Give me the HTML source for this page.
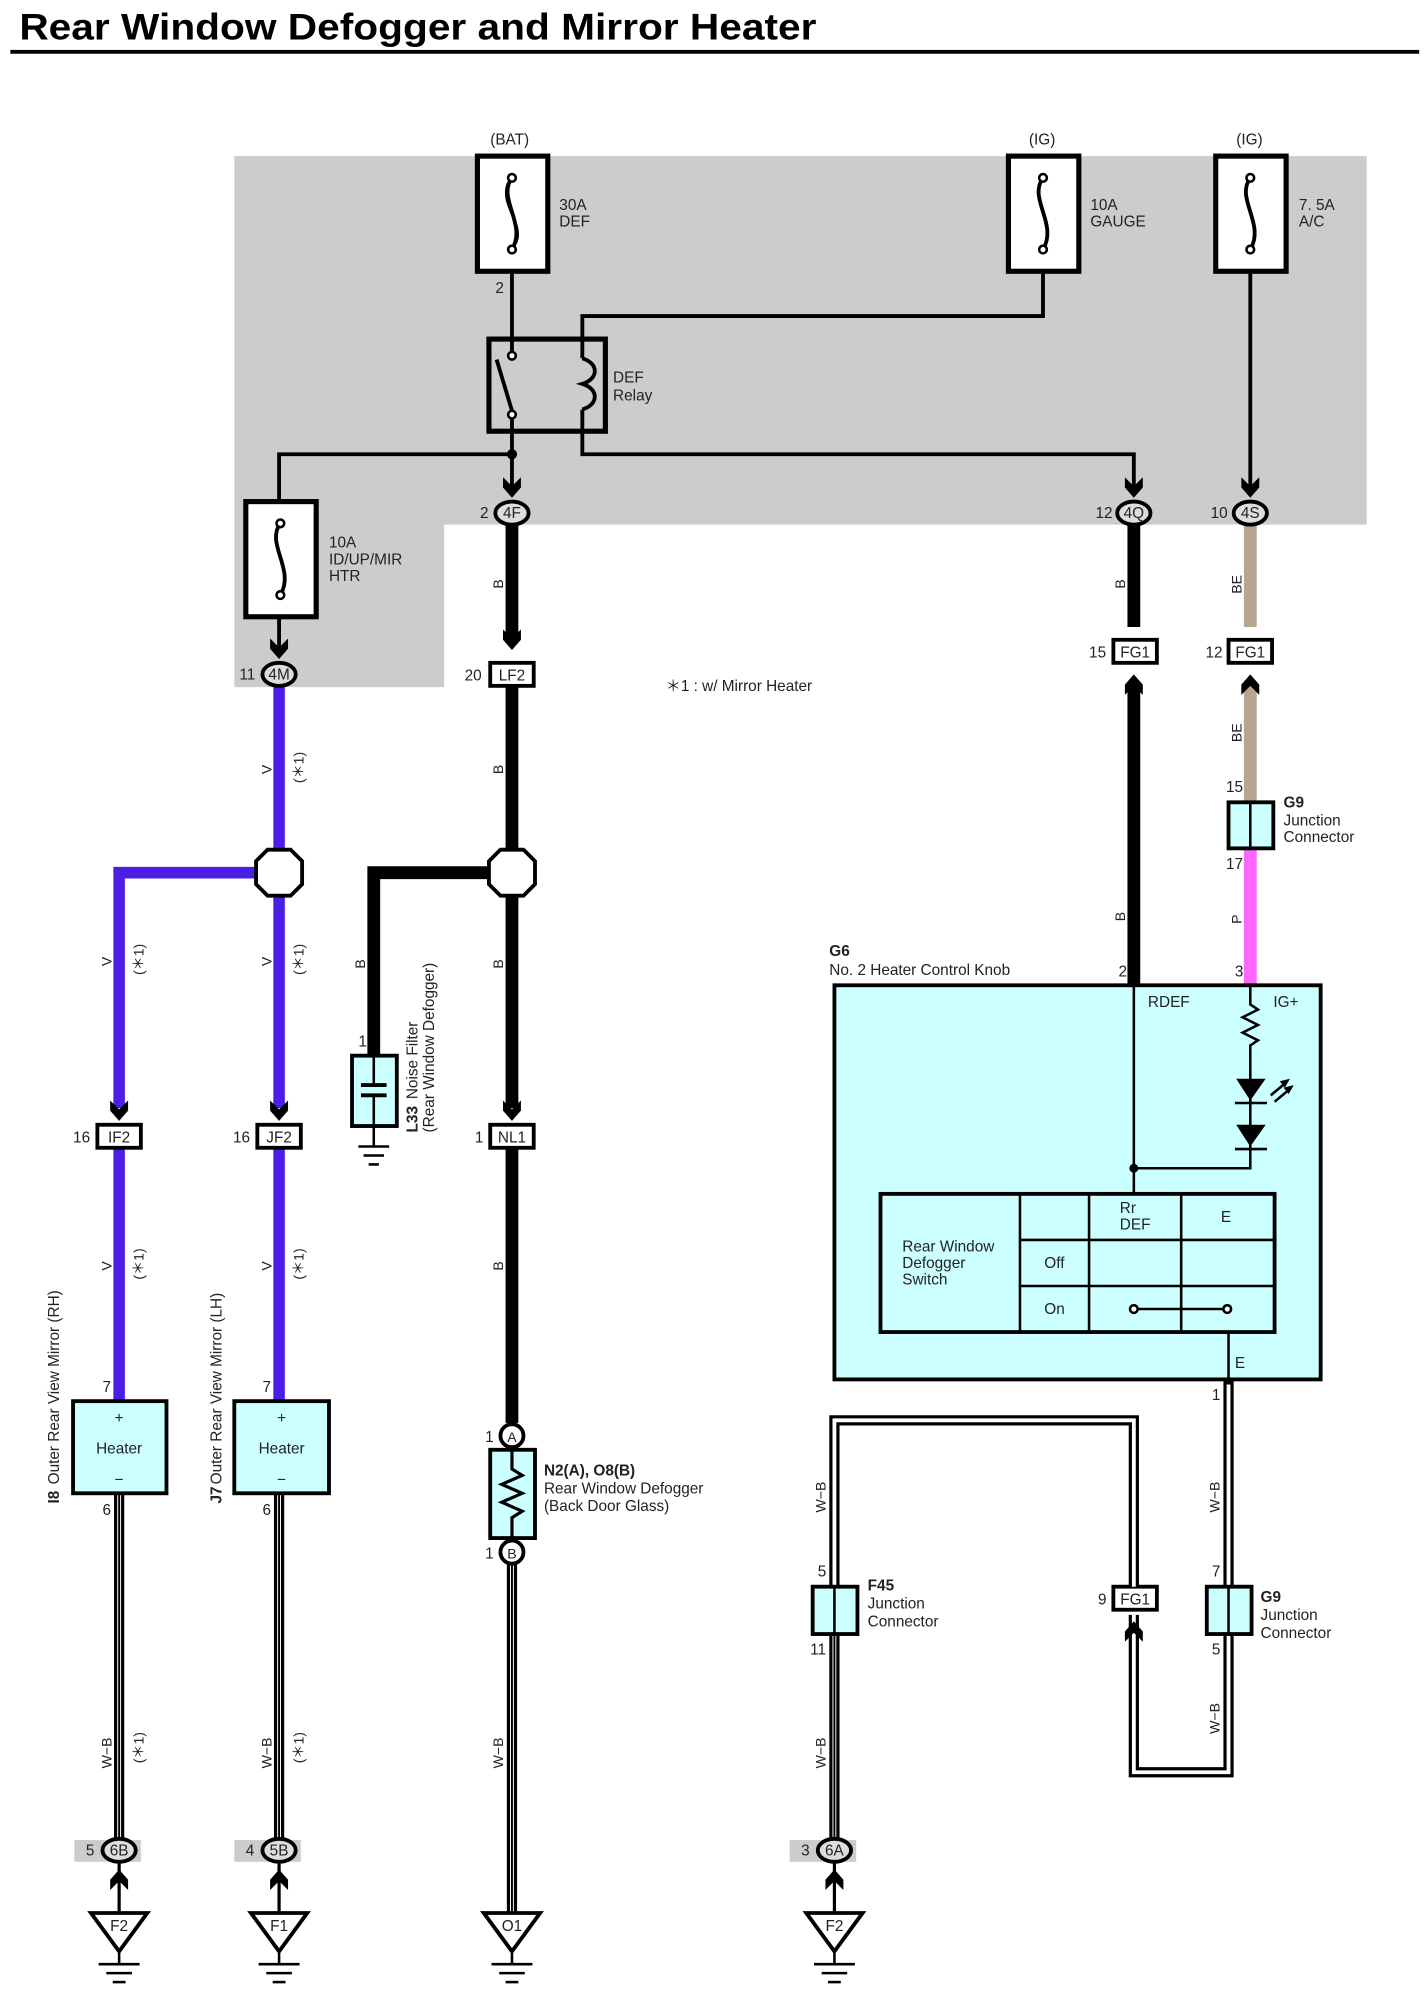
<!DOCTYPE html>
<html><head><meta charset="utf-8">
<style>
html,body{margin:0;padding:0;background:#fff;}
svg{display:block;}
text{font-family:"Liberation Sans",Arial,sans-serif;fill:#222;}
</style></head>
<body>
<svg width="1427" height="2000" viewBox="0 0 1115 1563" xmlns="http://www.w3.org/2000/svg">
<defs>
<g id="chev"><polygon points="-7,-13 0,-6 7,-13 7,-5 0,3 -7,-5" fill="#000"/></g>
<g id="chevup"><polygon points="-7,13 0,6 7,13 7,5 0,-3 -7,5" fill="#000"/></g>
<g id="fuse"><path d="M0,-28 C-12,-12 12,8 0,28" fill="none" stroke="#000" stroke-width="3"/><circle cx="0" cy="-28" r="3" fill="#fff" stroke="#000" stroke-width="2"/><circle cx="0" cy="28" r="3" fill="#fff" stroke="#000" stroke-width="2"/></g>
<g id="gnd"><polygon points="-22,0 22,0 0,30" fill="#fff" stroke="#000" stroke-width="3"/><line x1="0" y1="30" x2="0" y2="40" stroke="#000" stroke-width="2"/><line x1="-16" y1="40" x2="16" y2="40" stroke="#000" stroke-width="2"/><line x1="-10" y1="47" x2="10" y2="47" stroke="#000" stroke-width="2"/><line x1="-5" y1="54" x2="5" y2="54" stroke="#000" stroke-width="2"/></g>
<g id="octa"><polygon points="-9,-18 9,-18 18,-9 18,9 9,18 -9,18 -18,9 -18,-9" fill="#fff" stroke="#000" stroke-width="3"/></g>
</defs>

<!-- title -->
<text x="15" y="31" font-size="29" font-weight="bold" textLength="623" lengthAdjust="spacingAndGlyphs" style="fill:#000">Rear Window Defogger and Mirror Heater</text>
<rect x="8" y="39" width="1101" height="3" fill="#000"/>

<!-- gray area -->
<polygon points="183,122 1068,122 1068,410 347,410 347,537 183,537" fill="#cccccc"/>

<!-- thin wires in gray area -->
<g stroke="#000" stroke-width="3" fill="none">
<line x1="400" y1="212" x2="400" y2="278"/>
<polyline points="815,212 815,247 455,247 455,280"/>
<polyline points="455,320 455,355 886,355 886,386"/>
<line x1="400" y1="324" x2="400" y2="386"/>
<polyline points="400,355 218,355 218,392"/>
<line x1="218" y1="482" x2="218" y2="512"/>
<line x1="977" y1="212" x2="977" y2="386"/>
</g>
<circle cx="400" cy="355" r="4" fill="#000"/>

<!-- fuses -->
<rect x="373" y="122" width="55" height="90" fill="#fff" stroke="#000" stroke-width="4"/>
<use href="#fuse" x="400" y="167"/>
<path d="M397,143 C390,160 410,175 403,190" stroke="#000" stroke-width="2" fill="none"/>
<rect x="788" y="122" width="55" height="90" fill="#fff" stroke="#000" stroke-width="4"/>
<use href="#fuse" x="815" y="167"/>
<rect x="950" y="122" width="55" height="90" fill="#fff" stroke="#000" stroke-width="4"/>
<use href="#fuse" x="977" y="167"/>
<rect x="192" y="392" width="55" height="90" fill="#fff" stroke="#000" stroke-width="4"/>
<use href="#fuse" x="219" y="437"/>

<text x="383" y="113" font-size="12">(BAT)</text>
<text x="804" y="113" font-size="12">(IG)</text>
<text x="966" y="113" font-size="12">(IG)</text>
<text x="437" y="164" font-size="12">30A</text><text x="437" y="177" font-size="12">DEF</text>
<text x="852" y="164" font-size="12">10A</text><text x="852" y="177" font-size="12">GAUGE</text>
<text x="1015" y="164" font-size="12">7. 5A</text><text x="1015" y="177" font-size="12">A/C</text>
<text x="387" y="229" font-size="12">2</text>
<text x="257" y="428" font-size="12">10A</text><text x="257" y="441" font-size="12">ID/UP/MIR</text><text x="257" y="454" font-size="12">HTR</text>

<!-- relay -->
<rect x="382" y="265" width="91" height="72" fill="none" stroke="#000" stroke-width="4"/>
<circle cx="400" cy="278" r="3" fill="#fff" stroke="#000" stroke-width="2"/>
<circle cx="400" cy="324" r="3" fill="#fff" stroke="#000" stroke-width="2"/>
<line x1="388" y1="281" x2="400" y2="321" stroke="#000" stroke-width="3"/>
<path d="M455,280 C468,284 468,296 455,300 C468,304 468,316 455,320" fill="none" stroke="#000" stroke-width="3"/>
<text x="479" y="299" font-size="12">DEF</text><text x="479" y="313" font-size="12">Relay</text>

<!-- thick black wires -->
<g stroke="#000" stroke-width="10" fill="none">
<line x1="400" y1="408" x2="400" y2="500"/>
<line x1="400" y1="537" x2="400" y2="866"/>
<line x1="400" y1="897" x2="400" y2="1112"/>
<polyline points="382,682 292,682 292,825"/>
<line x1="886" y1="408" x2="886" y2="490"/>
<line x1="886" y1="533" x2="886" y2="772"/>
</g>
<!-- BE wire -->
<line x1="977" y1="408" x2="977" y2="490" stroke="#b8a590" stroke-width="10"/>
<line x1="977" y1="533" x2="977" y2="627" stroke="#b8a590" stroke-width="10"/>
<line x1="977" y1="663" x2="977" y2="772" stroke="#ff66ff" stroke-width="10"/>
<!-- purple -->
<g stroke="#4b1ee6" stroke-width="9" fill="none">
<line x1="218" y1="537" x2="218" y2="866"/>
<polyline points="200,682 93,682 93,866"/>
<line x1="93" y1="897" x2="93" y2="1095"/>
<line x1="218" y1="897" x2="218" y2="1095"/>
</g>
<use href="#octa" x="218" y="682"/>
<use href="#octa" x="400" y="682"/>

<!-- arrows -->
<use href="#chev" x="400" y="386"/><use href="#chev" x="886" y="386"/><use href="#chev" x="977" y="386"/>
<use href="#chev" x="218" y="512"/><use href="#chev" x="400" y="505"/>
<use href="#chev" x="93" y="873"/><use href="#chev" x="218" y="873"/><use href="#chev" x="400" y="873"/>
<use href="#chevup" x="886" y="530"/><use href="#chevup" x="977" y="530"/>

<!-- ovals -->
<g font-size="12" text-anchor="middle">
<ellipse cx="400" cy="401" rx="13" ry="9" fill="#ddd" stroke="#000" stroke-width="3"/><text x="400" y="405">4F</text>
<ellipse cx="886" cy="401" rx="13" ry="9" fill="#ddd" stroke="#000" stroke-width="3"/><text x="886" y="405">4Q</text>
<ellipse cx="977" cy="401" rx="13" ry="9" fill="#ddd" stroke="#000" stroke-width="3"/><text x="977" y="405">4S</text>
<ellipse cx="218" cy="527" rx="13" ry="9" fill="#ddd" stroke="#000" stroke-width="3"/><text x="218" y="531">4M</text>
</g>
<g font-size="12">
<text x="375" y="405">2</text><text x="856" y="405">12</text><text x="946" y="405">10</text><text x="187" y="531">11</text>
</g>

<!-- rectangular connectors -->
<g fill="#fff" stroke="#000" stroke-width="3">
<rect x="383" y="518" width="34" height="18"/>
<rect x="870" y="500" width="34" height="18"/>
<rect x="960" y="500" width="34" height="18"/>
<rect x="76" y="879" width="34" height="18"/>
<rect x="201" y="879" width="34" height="18"/>
<rect x="383" y="879" width="34" height="18"/>
<rect x="870" y="1240" width="34" height="18"/>
</g>
<g font-size="12" text-anchor="middle">
<text x="400" y="532">LF2</text><text x="887" y="514">FG1</text><text x="977" y="514">FG1</text>
<text x="93" y="893">IF2</text><text x="218" y="893">JF2</text><text x="400" y="893">NL1</text><text x="887" y="1254">FG1</text>
</g>
<g font-size="12">
<text x="363" y="532">20</text><text x="851" y="514">15</text><text x="942" y="514">12</text>
<text x="57" y="893">16</text><text x="182" y="893">16</text><text x="371" y="893">1</text><text x="858" y="1254">9</text>
</g>
<text x="520" y="540" font-size="12">＊1 : w/ Mirror Heater</text>

<!-- G9 upper -->
<rect x="960" y="627" width="35" height="36" fill="#ccffff" stroke="#000" stroke-width="3"/>
<line x1="977" y1="627" x2="977" y2="663" stroke="#000" stroke-width="2"/>
<text x="958" y="619" font-size="12">15</text><text x="958" y="679" font-size="12">17</text>
<text x="1003" y="631" font-size="12" font-weight="bold">G9</text>
<text x="1003" y="645" font-size="12">Junction</text><text x="1003" y="658" font-size="12">Connector</text>

<!-- capacitor L33 -->
<rect x="275" y="825" width="35" height="55" fill="#ccffff" stroke="#000" stroke-width="3"/>
<line x1="292" y1="825" x2="292" y2="848" stroke="#000" stroke-width="2"/>
<line x1="282" y1="848" x2="302" y2="848" stroke="#000" stroke-width="3"/>
<line x1="282" y1="856" x2="302" y2="856" stroke="#000" stroke-width="3"/>
<line x1="292" y1="856" x2="292" y2="896" stroke="#000" stroke-width="2"/>
<line x1="280" y1="896" x2="304" y2="896" stroke="#000" stroke-width="2"/>
<line x1="284" y1="903" x2="300" y2="903" stroke="#000" stroke-width="2"/>
<line x1="288" y1="910" x2="296" y2="910" stroke="#000" stroke-width="2"/>
<text x="280" y="818" font-size="12">1</text>
<g transform="translate(326,885) rotate(-90)" font-size="12">
<text x="0" y="0" font-weight="bold">L33</text>
<text x="26" y="0">Noise Filter</text>
<text x="0" y="13">(Rear Window Defogger)</text>
</g>

<!-- wire labels rotated -->
<g font-size="11">
<text transform="translate(212,605) rotate(-90)">V</text><text transform="translate(237,612) rotate(-90)">(＊1)</text>
<text transform="translate(87,755) rotate(-90)">V</text><text transform="translate(112,762) rotate(-90)">(＊1)</text>
<text transform="translate(212,755) rotate(-90)">V</text><text transform="translate(237,762) rotate(-90)">(＊1)</text>
<text transform="translate(87,993) rotate(-90)">V</text><text transform="translate(112,1000) rotate(-90)">(＊1)</text>
<text transform="translate(212,993) rotate(-90)">V</text><text transform="translate(237,1000) rotate(-90)">(＊1)</text>
<text transform="translate(393,460) rotate(-90)">B</text>
<text transform="translate(393,605) rotate(-90)">B</text>
<text transform="translate(393,757) rotate(-90)">B</text>
<text transform="translate(393,993) rotate(-90)">B</text>
<text transform="translate(285,757) rotate(-90)">B</text>
<text transform="translate(879,460) rotate(-90)">B</text>
<text transform="translate(879,720) rotate(-90)">B</text>
<text transform="translate(970,464) rotate(-90)">BE</text>
<text transform="translate(970,580) rotate(-90)">BE</text>
<text transform="translate(970,722) rotate(-90)">P</text>
<text transform="translate(87,1382) rotate(-90)">W−B</text><text transform="translate(112,1378) rotate(-90)">(＊1)</text>
<text transform="translate(212,1382) rotate(-90)">W−B</text><text transform="translate(237,1378) rotate(-90)">(＊1)</text>
<text transform="translate(393,1382) rotate(-90)">W−B</text>
<text transform="translate(645,1182) rotate(-90)">W−B</text>
<text transform="translate(645,1382) rotate(-90)">W−B</text>
<text transform="translate(953,1182) rotate(-90)">W−B</text>
<text transform="translate(953,1355) rotate(-90)">W−B</text>
</g>

<!-- double wires W-B -->
<g fill="none">
<g stroke="#000" stroke-width="8">
<line x1="93" y1="1167" x2="93" y2="1440"/>
<line x1="218" y1="1167" x2="218" y2="1440"/>
<line x1="400" y1="1222" x2="400" y2="1495"/>
<polyline points="652,1240 652,1110 886,1110 886,1240"/>
<line x1="652" y1="1277" x2="652" y2="1440"/>
<line x1="960" y1="1078" x2="960" y2="1240"/>
<polyline points="960,1277 960,1385 886,1385 886,1262"/>
</g>
<g stroke="#fff" stroke-width="3">
<line x1="93" y1="1167" x2="93" y2="1440"/>
<line x1="218" y1="1167" x2="218" y2="1440"/>
<line x1="400" y1="1222" x2="400" y2="1495"/>
<polyline points="652,1240 652,1110 886,1110 886,1240"/>
<line x1="652" y1="1277" x2="652" y2="1440"/>
<line x1="960" y1="1082" x2="960" y2="1240"/>
<polyline points="960,1277 960,1385 886,1385 886,1262"/>
</g>
<g stroke="#000" stroke-width="1.5">
<line x1="93" y1="1167" x2="93" y2="1440"/>
<line x1="218" y1="1167" x2="218" y2="1440"/>
<line x1="400" y1="1222" x2="400" y2="1495"/>
<line x1="652" y1="1277" x2="652" y2="1440"/>
</g>
</g>
<use href="#chevup" x="886" y="1270"/>

<!-- heaters -->
<rect x="57" y="1095" width="73" height="72" fill="#ccffff" stroke="#000" stroke-width="3"/>
<rect x="183" y="1095" width="74" height="72" fill="#ccffff" stroke="#000" stroke-width="3"/>
<g font-size="12" text-anchor="middle">
<text x="93" y="1112">+</text><text x="93" y="1136">Heater</text><text x="93" y="1160">−</text>
<text x="220" y="1112">+</text><text x="220" y="1136">Heater</text><text x="220" y="1160">−</text>
</g>
<g font-size="12"><text x="80" y="1088">7</text><text x="205" y="1088">7</text><text x="80" y="1184">6</text><text x="205" y="1184">6</text></g>
<g transform="translate(46,1175) rotate(-90)" font-size="12"><text x="0" y="0" font-weight="bold">I8</text><text x="0" y="0" dx="15">Outer Rear View Mirror (RH)</text></g>
<g transform="translate(173,1175) rotate(-90)" font-size="12"><text x="0" y="0" font-weight="bold">J7</text><text x="0" y="0" dx="15">Outer Rear View Mirror (LH)</text></g>

<!-- defogger -->
<circle cx="400" cy="1122" r="9" fill="#fff" stroke="#000" stroke-width="3"/>
<text x="400" y="1127" font-size="11" text-anchor="middle">A</text>
<rect x="383" y="1133" width="35" height="69" fill="#ccffff" stroke="#000" stroke-width="3"/>
<polyline points="400,1133 400,1148 408,1153 392,1160 408,1167 392,1174 408,1181 400,1186 400,1202" fill="none" stroke="#000" stroke-width="2.5"/>
<circle cx="400" cy="1213" r="9" fill="#fff" stroke="#000" stroke-width="3"/>
<text x="400" y="1218" font-size="11" text-anchor="middle">B</text>
<text x="379" y="1127" font-size="12">1</text><text x="379" y="1218" font-size="12">1</text>
<text x="425" y="1153" font-size="12" font-weight="bold">N2(A), O8(B)</text>
<text x="425" y="1167" font-size="12">Rear Window Defogger</text>
<text x="425" y="1181" font-size="12">(Back Door Glass)</text>

<!-- G6 -->
<text x="648" y="747" font-size="12" font-weight="bold">G6</text>
<text x="648" y="762" font-size="12">No. 2 Heater Control Knob</text>
<rect x="652" y="770" width="380" height="308" fill="#ccffff" stroke="#000" stroke-width="3"/>
<text x="874" y="763" font-size="12">2</text><text x="965" y="763" font-size="12">3</text>
<text x="897" y="787" font-size="12">RDEF</text><text x="995" y="787" font-size="12">IG+</text>
<g stroke="#000" stroke-width="2" fill="none">
<line x1="886" y1="770" x2="886" y2="933"/>
<polyline points="977,770 977,785 983,789 971,795 983,801 971,807 983,813 977,817 977,913 886,913"/>
</g>
<polygon points="966,843 989,843 977,860" fill="#000"/><line x1="965" y1="862" x2="990" y2="862" stroke="#000" stroke-width="2"/>
<polygon points="966,879 989,879 977,896" fill="#000"/><line x1="965" y1="898" x2="990" y2="898" stroke="#000" stroke-width="2"/>
<line x1="993" y1="856" x2="1005" y2="846" stroke="#000" stroke-width="2"/><polygon points="1008,843 1000,845 1004,850" fill="#000"/>
<line x1="996" y1="861" x2="1008" y2="851" stroke="#000" stroke-width="2"/><polygon points="1011,848 1003,850 1007,855" fill="#000"/>
<circle cx="886" cy="913" r="3.5" fill="#000"/>
<rect x="688" y="933" width="308" height="108" fill="#ccffff" stroke="#000" stroke-width="3"/>
<g stroke="#000" stroke-width="2">
<line x1="797" y1="933" x2="797" y2="1041"/><line x1="851" y1="933" x2="851" y2="1041"/><line x1="923" y1="933" x2="923" y2="1041"/>
<line x1="797" y1="969" x2="996" y2="969"/><line x1="797" y1="1005" x2="996" y2="1005"/>
<line x1="886" y1="1023" x2="959" y2="1023"/>
</g>
<circle cx="886" cy="1023" r="3" fill="#fff" stroke="#000" stroke-width="2"/>
<circle cx="959" cy="1023" r="3" fill="#fff" stroke="#000" stroke-width="2"/>
<g font-size="12">
<text x="875" y="948">Rr</text><text x="875" y="961">DEF</text><text x="954" y="955">E</text>
<text x="705" y="978">Rear Window</text><text x="705" y="991">Defogger</text><text x="705" y="1004">Switch</text>
<text x="816" y="991">Off</text><text x="816" y="1027">On</text>
<text x="965" y="1069">E</text><text x="947" y="1094">1</text>
</g>
<line x1="960" y1="1041" x2="960" y2="1078" stroke="#000" stroke-width="2"/>

<!-- F45 & G9 lower -->
<rect x="635" y="1240" width="35" height="37" fill="#ccffff" stroke="#000" stroke-width="3"/>
<line x1="652" y1="1240" x2="652" y2="1277" stroke="#000" stroke-width="2"/>
<text x="639" y="1232" font-size="12">5</text><text x="633" y="1293" font-size="12">11</text>
<text x="678" y="1243" font-size="12" font-weight="bold">F45</text>
<text x="678" y="1257" font-size="12">Junction</text><text x="678" y="1271" font-size="12">Connector</text>
<rect x="943" y="1240" width="35" height="37" fill="#ccffff" stroke="#000" stroke-width="3"/>
<line x1="960" y1="1240" x2="960" y2="1277" stroke="#000" stroke-width="2"/>
<text x="947" y="1232" font-size="12">7</text><text x="947" y="1293" font-size="12">5</text>
<text x="985" y="1252" font-size="12" font-weight="bold">G9</text>
<text x="985" y="1266" font-size="12">Junction</text><text x="985" y="1280" font-size="12">Connector</text>

<!-- bottom ground connectors -->
<g>
<rect x="58" y="1438" width="52" height="17" fill="#cccccc"/>
<rect x="183" y="1438" width="52" height="17" fill="#cccccc"/>
<rect x="617" y="1438" width="52" height="17" fill="#cccccc"/>
<g stroke="#000" stroke-width="2.5">
<line x1="93" y1="1455" x2="93" y2="1495"/><line x1="218" y1="1455" x2="218" y2="1495"/><line x1="652" y1="1455" x2="652" y2="1495"/>
</g>
<g font-size="12" text-anchor="middle">
<ellipse cx="93" cy="1446" rx="13" ry="9" fill="#ddd" stroke="#000" stroke-width="3"/><text x="93" y="1450">6B</text>
<ellipse cx="218" cy="1446" rx="13" ry="9" fill="#ddd" stroke="#000" stroke-width="3"/><text x="218" y="1450">5B</text>
<ellipse cx="652" cy="1446" rx="13" ry="9" fill="#ddd" stroke="#000" stroke-width="3"/><text x="652" y="1450">6A</text>
</g>
<g font-size="12"><text x="67" y="1450">5</text><text x="192" y="1450">4</text><text x="626" y="1450">3</text></g>
<use href="#chevup" x="93" y="1464"/><use href="#chevup" x="218" y="1464"/><use href="#chevup" x="652" y="1464"/>
<use href="#gnd" x="93" y="1495"/><use href="#gnd" x="218" y="1495"/><use href="#gnd" x="400" y="1495"/><use href="#gnd" x="652" y="1495"/>
<g font-size="12" text-anchor="middle">
<text x="93" y="1509">F2</text><text x="218" y="1509">F1</text><text x="400" y="1509">O1</text><text x="652" y="1509">F2</text>
</g>
</g>
</svg>
</body></html>
